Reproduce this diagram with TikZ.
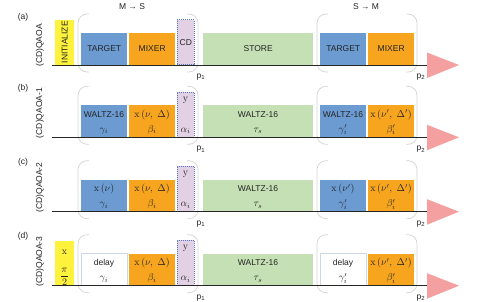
\documentclass[tikz,border=0pt]{standalone}
\usepackage[no-math]{fontspec}
\setmainfont{Liberation Sans}
\definecolor{yelC}{RGB}{255,242,60}
\definecolor{bluC}{RGB}{108,155,210}
\definecolor{oraC}{RGB}{247,165,30}
\definecolor{purC}{RGB}{226,208,228}
\definecolor{purE}{RGB}{90,120,190}
\definecolor{grnC}{RGB}{197,224,180}
\definecolor{triC}{RGB}{245,160,160}
\definecolor{brkC}{RGB}{212,212,212}
\definecolor{dlyE}{RGB}{205,215,230}
\definecolor{txtC}{RGB}{35,35,35}
\tikzset{
  fs/.style={font=\fontsize{8.5}{10}\selectfont, text=txtC, inner sep=0pt},
  blk/.style={anchor=south west, inner sep=0pt, draw=none, minimum height=32pt},
  tall/.style={minimum height=45pt},
  bl/.style={blk, minimum width=46pt, fill=bluC},
  orb/.style={blk, minimum width=46pt, fill=oraC},
  gr/.style={blk, minimum width=110pt, fill=grnC},
  pu/.style={blk, tall, minimum width=17pt, fill=purC, draw=purE, dash pattern=on 1pt off 1pt, line width=0.6pt},
  ye/.style={blk, tall, minimum width=19pt, fill=yelC},
  dl/.style={blk, minimum width=46pt, fill=white, draw=dlyE, line width=0.5pt},
  brk/.style={draw=brkC, line width=0.7pt, rounded corners=9pt},
  axisline/.style={draw=black!85, line width=0.8pt},
}
\newcommand{\mth}[1]{{\fontsize{10}{12}\selectfont$#1$}}
\newcommand{\twolines}[4]{%
  \node[fs, anchor=base] (#1u) at (#2,-20) {#3};
  \node[fs, anchor=base] (#1l) at (#2,-5) {#4};}
\newcommand{\brackets}{%
  \draw[brk] (89,-51) -- (78,-51) -- (78,7) -- (89,7);
  \draw[brk] (187,-51) -- (198,-51) -- (198,7) -- (187,7);
  \draw[brk] (328,-51) -- (317,-51) -- (317,7) -- (328,7);
  \draw[brk] (406,-51) -- (417,-51) -- (417,7) -- (406,7);}
\newcommand{\axisandtri}[1]{%
  \coordinate (#1s) at (52,0);
  \coordinate (#1e) at (427,0);
  \draw[axisline] (#1s) -- (#1e);
  \fill[triC] (427,-12.5) -- (427,13) -- (459,0) -- cycle;
  \node[fs] (#1p1) at (201,12) {p\textsubscript{1}};
  \node[fs] (#1p2) at (421,12) {p\textsubscript{2}};}
\begin{document}
\begin{tikzpicture}[x=1pt,y=-1pt]
\useasboundingbox (0,0) rectangle (479,302);
% ---------- (a)
\begin{scope}[shift={(0,65)}]
  \brackets
  \node[fs] (alab) at (23,-48) {(a)};
  \node[fs, rotate=90, anchor=west] (aside) at (40,2) {(CD)QAOA};
  \node[fs] (ams) at (132,-58) {M → S};
  \node[fs] (asm) at (366,-58) {S → M};
  \node[ye] (ai) at (55,0) {};
  \node[fs, rotate=90] (aiT) at (ai.center) {INITIALIZE};
  \node[bl] (at1) at (81,0) {};  \node[fs] (at1T) at (at1.center) {TARGET};
  \node[orb] (am1) at (129,0) {}; \node[fs] (am1T) at (am1.center) {MIXER};
  \node[pu] (acd) at (177,0) {};  \node[fs] (acdT) at (acd.center) {CD};
  \node[gr] (ast) at (203,0) {};  \node[fs] (astT) at (ast.center) {STORE};
  \node[bl] (at2) at (320,0) {};  \node[fs] (at2T) at (at2.center) {TARGET};
  \node[orb] (am2) at (368,0) {}; \node[fs] (am2T) at (am2.center) {MIXER};
  \axisandtri{a}
\end{scope}
% ---------- (b)
\begin{scope}[shift={(0,137.3)}]
  \brackets
  \node[fs] (blab) at (23,-49) {(b)};
  \node[fs, rotate=90, anchor=west] (bside) at (40,1) {(CD)QAOA-1};
  \node[bl] (bt1) at (81,0) {};  \twolines{bt1}{104}{WALTZ-16}{\mth{\gamma_i}}
  \node[orb] (bm1) at (129,0) {}; \twolines{bm1}{152}{\mth{\mathrm{x}\,(\nu,\ \Delta)}}{\mth{\beta_i}}
  \node[pu] (bcd) at (177,0) {};
  \node[fs, anchor=base] (bcdu) at (185.5,-36) {\mth{\mathrm{y}}};
  \node[fs, anchor=base] (bcdl) at (185.5,-5) {\mth{\alpha_i}};
  \node[gr] (bst) at (203,0) {};  \twolines{bst}{258}{WALTZ-16}{\mth{\tau_s}}
  \node[bl] (bt2) at (320,0) {};  \twolines{bt2}{343}{WALTZ-16}{\mth{\gamma'_i}}
  \node[orb] (bm2) at (368,0) {}; \twolines{bm2}{391}{\mth{\mathrm{x}\,(\nu',\ \Delta')}}{\mth{\beta'_i}}
  \axisandtri{b}
\end{scope}
% ---------- (c)
\begin{scope}[shift={(0,211.7)}]
  \brackets
  \node[fs] (clab) at (23,-49) {(c)};
  \node[fs, rotate=90, anchor=west] (cside) at (40,1) {(CD)QAOA-2};
  \node[bl] (ct1) at (81,0) {};  \twolines{ct1}{104}{\mth{\mathrm{x}\,(\nu)}}{\mth{\gamma_i}}
  \node[orb] (cm1) at (129,0) {}; \twolines{cm1}{152}{\mth{\mathrm{x}\,(\nu,\ \Delta)}}{\mth{\beta_i}}
  \node[pu] (ccd) at (177,0) {};
  \node[fs, anchor=base] (ccdu) at (185.5,-36) {\mth{\mathrm{y}}};
  \node[fs, anchor=base] (ccdl) at (185.5,-5) {\mth{\alpha_i}};
  \node[gr] (cst) at (203,0) {};  \twolines{cst}{258}{WALTZ-16}{\mth{\tau_s}}
  \node[bl] (ct2) at (320,0) {};  \twolines{ct2}{343}{\mth{\mathrm{x}\,(\nu')}}{\mth{\gamma'_i}}
  \node[orb] (cm2) at (368,0) {}; \twolines{cm2}{391}{\mth{\mathrm{x}\,(\nu',\ \Delta')}}{\mth{\beta'_i}}
  \axisandtri{c}
\end{scope}
% ---------- (d)
\begin{scope}[shift={(0,285.7)}]
  \brackets
  \node[fs] (dlab) at (23,-49) {(d)};
  \node[fs, rotate=90, anchor=west] (dside) at (40,1) {(CD)QAOA-3};
  \node[ye] (di) at (55,0) {};
  \node[fs] (diu) at (64.5,-33) {\mth{\mathrm{x}}};
  \node[fs] (dil) at (64.5,-9) {\mth{\displaystyle\frac{\pi}{2}}};
  \node[dl] (dt1) at (81,0) {};  \twolines{dt1}{104}{delay}{\mth{\gamma_i}}
  \node[orb] (dm1) at (129,0) {}; \twolines{dm1}{152}{\mth{\mathrm{x}\,(\nu,\ \Delta)}}{\mth{\beta_i}}
  \node[pu] (dcd) at (177,0) {};
  \node[fs, anchor=base] (dcdu) at (185.5,-36) {\mth{\mathrm{y}}};
  \node[fs, anchor=base] (dcdl) at (185.5,-5) {\mth{\alpha_i}};
  \node[gr] (dst) at (203,0) {};  \twolines{dst}{258}{WALTZ-16}{\mth{\tau_s}}
  \node[dl] (dt2) at (320,0) {};  \twolines{dt2}{343}{delay}{\mth{\gamma'_i}}
  \node[orb] (dm2) at (368,0) {}; \twolines{dm2}{391}{\mth{\mathrm{x}\,(\nu',\ \Delta')}}{\mth{\beta'_i}}
  \axisandtri{d}
\end{scope}
\end{tikzpicture}
\end{document}
